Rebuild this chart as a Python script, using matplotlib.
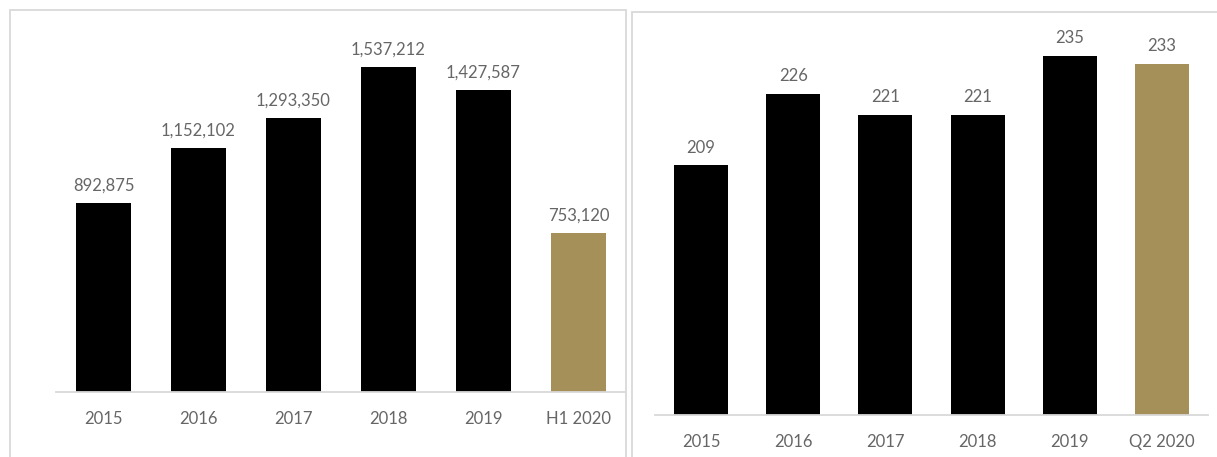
import matplotlib
matplotlib.use("Agg")
import matplotlib.pyplot as plt
from matplotlib.patches import Rectangle

plt.rcParams['font.family'] = ['Lato', 'DejaVu Sans']

left_cats = ["2015", "2016", "2017", "2018", "2019", "H1 2020"]
left_vals = [892875, 1152102, 1293350, 1537212, 1427587, 753120]
right_cats = ["2015", "2016", "2017", "2018", "2019", "Q2 2020"]
right_vals = [209, 226, 221, 221, 235, 233]

BLACK = "#000000"
GOLD = "#A69059"
TEXT = "#666666"
GRID = "#D9D9D9"

W, H = 1217, 457
fig = plt.figure(figsize=(W / 100, H / 100), dpi=100)

def ax_rect(x0, y_top, x1, y_bot):
    return [x0 / W, 1 - y_bot / H, (x1 - x0) / W, (y_bot - y_top) / H]

# panel borders
fig.patches.append(Rectangle((10 / W, 1 - 470 / H), 616 / W, 460 / H, transform=fig.transFigure,
                             fill=False, edgecolor=GRID, linewidth=1.3))
fig.patches.append(Rectangle((632 / W, 1 - 470 / H), 600 / W, 458 / H, transform=fig.transFigure,
                             fill=False, edgecolor=GRID, linewidth=1.3))

def draw(ax, cats, vals, ylim, width, fmt):
    colors = [BLACK] * (len(vals) - 1) + [GOLD]
    x = range(len(cats))
    ax.bar(x, [v - ylim[0] for v in vals], bottom=ylim[0], width=width, color=colors)
    ax.set_xlim(-0.5, len(cats) - 0.5)
    ax.set_ylim(*ylim)
    for xi, v in zip(x, vals):
        ax.annotate(fmt(v), (xi, v), xytext=(0, 9), textcoords="offset points",
                    ha="center", va="baseline", fontsize=12, color=TEXT)
    ax.set_xticks(list(x))
    ax.set_xticklabels(cats, fontsize=12, color=TEXT)
    ax.set_yticks([])
    ax.tick_params(axis="x", length=0, pad=14)
    for s in ["top", "left", "right"]:
        ax.spines[s].set_visible(False)
    ax.spines["bottom"].set_color(GRID)
    ax.spines["bottom"].set_linewidth(1.3)
    ax.patch.set_alpha(0)

axL = fig.add_axes(ax_rect(56, 20, 626, 392))
draw(axL, left_cats, left_vals, (0, 1758444), 0.58, lambda v: f"{v:,}")

axR = fig.add_axes(ax_rect(655, 20, 1208, 415))
draw(axR, right_cats, right_vals, (150, 243.4), 0.586, lambda v: f"{v}")

fig.savefig("out.png", dpi=100)
